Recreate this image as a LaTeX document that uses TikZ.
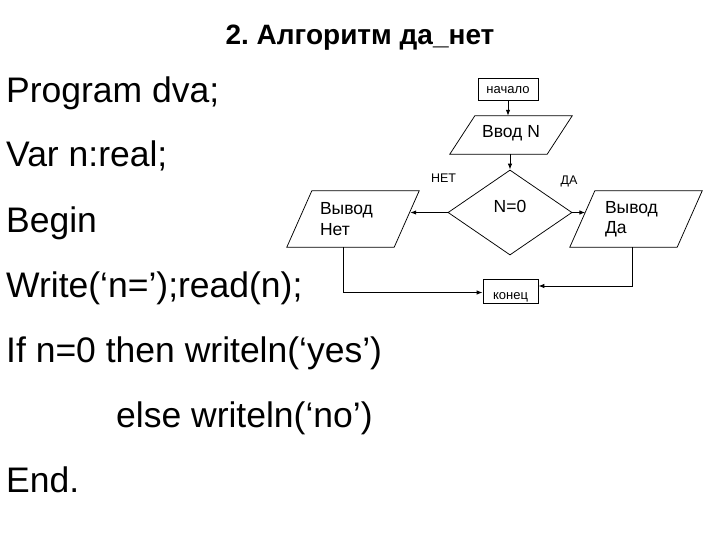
\documentclass[tikz,border=0pt]{standalone}
\usepackage{fontspec}
\setmainfont{Liberation Sans}
\usetikzlibrary{shapes.geometric,arrows.meta,calc}
\begin{document}
\frenchspacing
\begin{tikzpicture}[x=1pt,y=-1pt,
  code/.style={anchor=base west,inner sep=0pt,font=\fontsize{35.5}{40}\selectfont},
  box/.style={draw,line width=0.75pt,rectangle,inner sep=0pt,font=\fontsize{13}{15}\selectfont},
  para/.style={rectangle,inner sep=0pt,font=\fontsize{17.5}{20.5}\selectfont,align=left},
  shapeline/.style={line width=0.75pt},
  conn/.style={line width=1pt,-{Latex[length=6pt,width=4.5pt]}},
  small/.style={font=\fontsize{12.5}{14}\selectfont,inner sep=0pt,anchor=base}
]
\useasboundingbox[fill=white] (0,0) rectangle (720,540);

% title
\node[anchor=base,inner sep=0pt,font=\bfseries\fontsize{28}{32}\selectfont] (title) at (360,45) {2.\ Алгоритм да\_нет};

% program text
\node[code] (l1) at (6,103) {Program dva;};
\node[code] (l2) at (6,167) {Var n:real;};
\node[code] (l3) at (6,233) {Begin};
\node[code] (l4) at (6,297) {Write(‘n=’);read(n);};
\node[code] (l5) at (6,362) {If n=0 then writeln(‘yes’)};
\node[code] (l6) at (116,427) {else writeln(‘no’)};
\node[code] (l7) at (6,492) {End.};

% flowchart
\node[box,minimum width=60pt,minimum height=22pt,text height=10pt,text depth=0pt] (nach) at (508,89) {начало};

\node[para,minimum width=122pt,minimum height=38pt,text height=13pt,text depth=7pt] (vvod) at (511,135) {Ввод N};
\draw[shapeline] (vvod.south west) -- ($(vvod.north west)+(25,0)$) -- (vvod.north east) -- ($(vvod.south east)+(-25,0)$) -- cycle;

\node[draw,diamond,shapeline,minimum width=124pt,minimum height=85pt,inner sep=0pt,
      font=\fontsize{17.5}{20}\selectfont,text height=12.5pt,text depth=13.5pt] (dia) at (510,212.5) {N=0};

\node[para,minimum width=132pt,minimum height=56pt,text width=66pt] (vn) at (353,219) {Вывод\\Нет};
\draw[shapeline] (vn.south west) -- ($(vn.north west)+(25,0)$) -- (vn.north east) -- ($(vn.south east)+(-25,0)$) -- cycle;

\node[para,minimum width=132pt,minimum height=56pt,text width=62pt] (vd) at (636,219) {Вывод\\Да};
\draw[shapeline] (vd.south west) -- ($(vd.north west)+(25,0)$) -- (vd.north east) -- ($(vd.south east)+(-25,0)$) -- cycle;

\node[box,minimum width=55pt,minimum height=24pt,text height=16pt,text depth=0pt] (kon) at (510.5,291) {конец};

\node[small] (net) at (443.5,183) {НЕТ};
\node[small] (da) at (569,185) {ДА};

% connectors
\draw[conn] (nach.south) -- (nach.south |- vvod.north);
\draw[conn] (dia.north |- vvod.south) -- (dia.north);
\draw[conn] (dia.west) -- ($(dia.west -| vn.east)+(-9,0)$);
\draw[conn] (dia.east) -- ($(dia.east -| vd.west)+(15.6,0)$);
\draw[conn] ($(vn.south)+(-10,0)$) |- ($(kon.west)+(0,1.5)$);
\draw[conn] ($(vd.south)+(-4,0)$) |- ($(kon.east)+(0,-5)$);
\end{tikzpicture}
\end{document}
